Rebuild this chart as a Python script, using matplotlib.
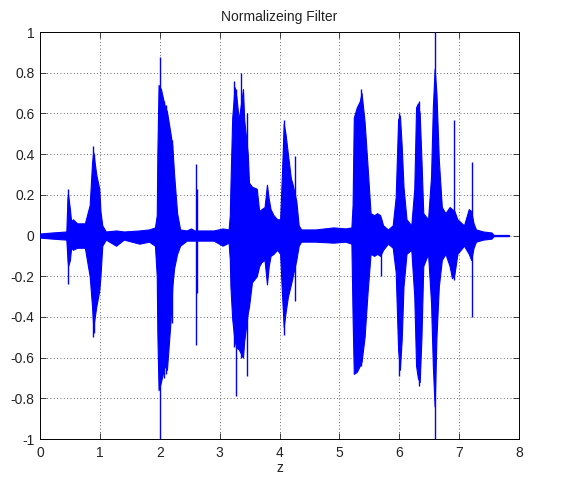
import matplotlib
matplotlib.use("Agg")
import matplotlib.pyplot as plt

# upper / lower envelope of the signal (time, value)
env_t = [0.00, 0.20, 0.44, 0.46, 0.47, 0.50, 0.52, 0.55, 0.62, 0.70, 0.75, 0.83,
         0.87, 0.89, 0.94, 0.99, 1.01, 1.04, 1.10, 1.27, 1.40, 1.66, 1.82, 1.92,
         1.95, 1.96, 1.98, 2.02, 2.08, 2.12, 2.18, 2.21, 2.24, 2.29, 2.34, 2.45,
         2.52, 2.58, 2.70, 2.90, 3.05, 3.15, 3.17, 3.18, 3.21, 3.25, 3.28, 3.32,
         3.39, 3.41, 3.47, 3.49, 3.54, 3.62, 3.66, 3.70, 3.75, 3.79, 3.82, 3.85,
         3.90, 3.96, 4.01, 4.04, 4.07, 4.10, 4.14, 4.19, 4.22, 4.28, 4.32, 4.36,
         4.60, 4.90, 5.10, 5.20, 5.22, 5.24, 5.29, 5.34, 5.37, 5.42, 5.47, 5.52,
         5.58, 5.63, 5.68, 5.73, 5.81, 5.89, 5.94, 5.98, 6.01, 6.04, 6.07, 6.12,
         6.20, 6.25, 6.28, 6.31, 6.34, 6.37, 6.40, 6.48, 6.53, 6.56, 6.59, 6.62,
         6.66, 6.71, 6.77, 6.84, 6.88, 6.92, 6.97, 7.08, 7.16, 7.20, 7.24, 7.28,
         7.40, 7.54, 7.57, 7.60, 7.83]
env_hi = [0.010, 0.015, 0.02, 0.19, 0.20, 0.13, 0.07, 0.08, 0.06, 0.06, 0.06, 0.15,
          0.36, 0.41, 0.30, 0.23, 0.12, 0.05, 0.02, 0.025, 0.02, 0.025, 0.03, 0.04,
          0.10, 0.40, 0.74, 0.72, 0.64, 0.61, 0.50, 0.44, 0.30, 0.11, 0.03, 0.025,
          0.035, 0.025, 0.025, 0.025, 0.035, 0.03, 0.10, 0.24, 0.58, 0.73, 0.68, 0.57,
          0.72, 0.57, 0.40, 0.26, 0.24, 0.23, 0.12, 0.13, 0.14, 0.25, 0.18, 0.13,
          0.10, 0.08, 0.08, 0.30, 0.55, 0.50, 0.40, 0.28, 0.25, 0.17, 0.05, 0.03,
          0.03, 0.04, 0.035, 0.04, 0.15, 0.58, 0.63, 0.66, 0.70, 0.56, 0.34, 0.11,
          0.10, 0.11, 0.10, 0.05, 0.03, 0.05, 0.19, 0.57, 0.59, 0.44, 0.24, 0.08,
          0.05, 0.23, 0.63, 0.65, 0.60, 0.37, 0.11, 0.08, 0.29, 0.63, 0.82, 0.70,
          0.37, 0.14, 0.11, 0.14, 0.13, 0.12, 0.08, 0.05, 0.13, 0.12, 0.06, 0.03,
          0.02, 0.015, 0.004, 0.003, 0.003]
env_lo = [-0.010, -0.015, -0.02, -0.12, -0.15, -0.12, -0.06, -0.07, -0.06, -0.06, -0.06, -0.20,
          -0.35, -0.45, -0.35, -0.27, -0.20, -0.05, -0.02, -0.05, -0.02, -0.04, -0.03, -0.05,
          -0.20, -0.48, -0.76, -0.72, -0.64, -0.66, -0.42, -0.25, -0.16, -0.09, -0.05, -0.025,
          -0.025, -0.025, -0.025, -0.025, -0.05, -0.035, -0.12, -0.25, -0.41, -0.52, -0.55, -0.56,
          -0.60, -0.52, -0.38, -0.35, -0.23, -0.20, -0.15, -0.13, -0.12, -0.24, -0.15, -0.10,
          -0.09, -0.07, -0.09, -0.28, -0.45, -0.38, -0.30, -0.24, -0.20, -0.12, -0.05, -0.03,
          -0.03, -0.035, -0.03, -0.04, -0.40, -0.68, -0.67, -0.64, -0.62, -0.50, -0.28, -0.09,
          -0.10, -0.09, -0.10, -0.07, -0.04, -0.06, -0.18, -0.56, -0.66, -0.51, -0.25, -0.09,
          -0.07, -0.30, -0.64, -0.70, -0.72, -0.50, -0.15, -0.09, -0.33, -0.64, -0.84, -0.50,
          -0.25, -0.12, -0.09, -0.15, -0.21, -0.19, -0.09, -0.05, -0.09, -0.12, -0.06, -0.03,
          -0.02, -0.015, -0.004, -0.003, -0.003]

# isolated spikes that stick out of the envelope (time, top, bottom)
spike_t = [0.47, 0.89, 0.90, 2.00, 2.07, 2.10, 2.20, 2.61, 2.62, 3.24, 3.27, 3.36,
           3.45, 4.07, 4.25, 5.36, 5.69, 6.00, 6.33, 6.60, 6.92, 7.21]
spike_hi = [0.23, 0.44, 0.40, 0.88, 0.66, 0.64, 0.47, 0.35, 0.23, 0.76, 0.72, 0.80,
            0.60, 0.57, 0.39, 0.72, 0.08, 0.60, 0.66, 1.00, 0.57, 0.36]
spike_lo = [-0.24, -0.50, -0.48, -1.00, -0.70, -0.68, -0.43, -0.54, -0.28, -0.55, -0.79, -0.60,
            -0.69, -0.49, -0.32, -0.64, -0.20, -0.69, -0.74, -1.00, -0.22, -0.40]

x_ticks = [0, 1, 2, 3, 4, 5, 6, 7, 8]
y_ticks = [-1, -0.8, -0.6, -0.4, -0.2, 0, 0.2, 0.4, 0.6, 0.8, 1]
y_labels = ["-1", "-0.8", "-0.6", "-0.4", "-0.2", "0", "0.2", "0.4", "0.6", "0.8", "1"]

plt.rcParams["font.family"] = ["Liberation Sans", "DejaVu Sans"]
fig = plt.figure(figsize=(5.63, 4.79), dpi=100)
ax = fig.add_axes([0.071, 0.0835, 0.851, 0.8495])

blue = "#0000ff"
ax.fill_between(env_t, env_lo, env_hi, color=blue, lw=0.8, zorder=3)
ax.vlines(spike_t, spike_lo, spike_hi, color=blue, lw=1.0, zorder=3)

ax.set_xlim(0, 8)
ax.set_ylim(-1, 1)
ax.set_xticks(x_ticks)
ax.set_yticks(y_ticks)
ax.set_yticklabels(y_labels)
ax.grid(True, color="black", ls=(0, (1, 3)), lw=0.6, alpha=0.8)
ax.tick_params(direction="in", top=True, right=True, length=4, width=0.6,
               labelsize=10, pad=4, colors="#222222")
ax.tick_params(axis="x", pad=5)
for s in ax.spines.values():
    s.set_linewidth(0.7)

ax.set_title("Normalizeing Filter", fontsize=10, pad=8, color="#222222")
ax.set_xlabel("z", fontsize=10, labelpad=1, color="#222222")

fig.savefig("out.png", dpi=100)
